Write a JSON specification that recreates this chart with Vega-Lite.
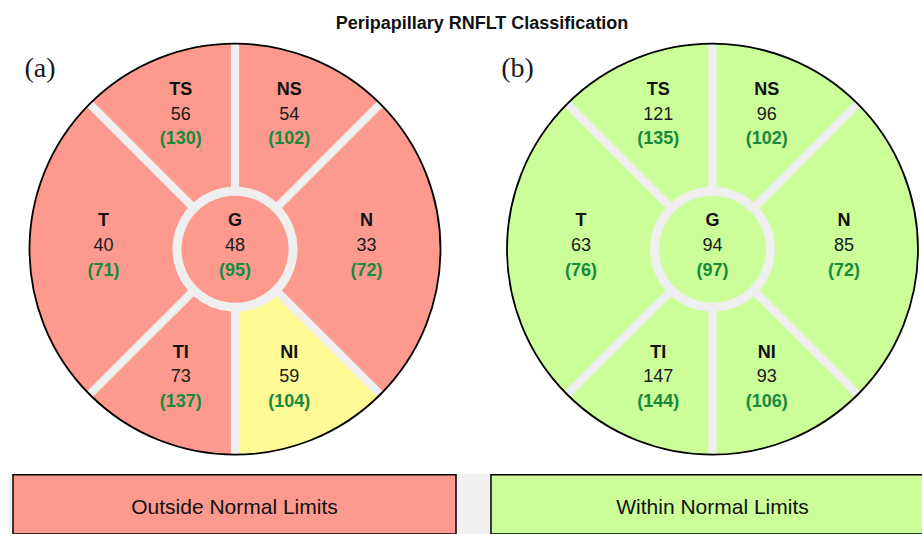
{
  "$schema": "https://vega.github.io/schema/vega-lite/v6.json",
  "background": "white",
  "padding": {"left": 9, "top": 12, "right": 0, "bottom": 0},
  "config": {"view": {"fill": "#F0F0F0", "stroke": null}, "font": "Liberation Sans"},
  "datasets": {
    "sectors": [
      {"panel": "a", "sector": "G", "idx": 0, "span": 0, "value": 48, "norm": 95, "status": "Outside Normal Limits"},
      {"panel": "a", "sector": "NS", "idx": 1, "span": 45, "value": 54, "norm": 102, "status": "Outside Normal Limits"},
      {"panel": "a", "sector": "N", "idx": 2, "span": 90, "value": 33, "norm": 72, "status": "Outside Normal Limits"},
      {"panel": "a", "sector": "NI", "idx": 3, "span": 45, "value": 59, "norm": 104, "status": "Borderline"},
      {"panel": "a", "sector": "TI", "idx": 4, "span": 45, "value": 73, "norm": 137, "status": "Outside Normal Limits"},
      {"panel": "a", "sector": "T", "idx": 5, "span": 90, "value": 40, "norm": 71, "status": "Outside Normal Limits"},
      {"panel": "a", "sector": "TS", "idx": 6, "span": 45, "value": 56, "norm": 130, "status": "Outside Normal Limits"},
      {"panel": "b", "sector": "G", "idx": 0, "span": 0, "value": 94, "norm": 97, "status": "Within Normal Limits"},
      {"panel": "b", "sector": "NS", "idx": 7, "span": 45, "value": 96, "norm": 102, "status": "Within Normal Limits"},
      {"panel": "b", "sector": "N", "idx": 8, "span": 90, "value": 85, "norm": 72, "status": "Within Normal Limits"},
      {"panel": "b", "sector": "NI", "idx": 9, "span": 45, "value": 93, "norm": 106, "status": "Within Normal Limits"},
      {"panel": "b", "sector": "TI", "idx": 10, "span": 45, "value": 147, "norm": 144, "status": "Within Normal Limits"},
      {"panel": "b", "sector": "T", "idx": 11, "span": 90, "value": 63, "norm": 76, "status": "Within Normal Limits"},
      {"panel": "b", "sector": "TS", "idx": 12, "span": 45, "value": 121, "norm": 135, "status": "Within Normal Limits"}
    ],
    "summary": [
      {"panel": "a", "label": "(a)", "classification": "Outside Normal Limits"},
      {"panel": "b", "label": "(b)", "classification": "Within Normal Limits"}
    ],
    "heading": [
      {"title": "Peripapillary RNFLT Classification"}
    ]
  },
  "spacing": 0,
  "vconcat": [
    {
      "width": 913,
      "height": 462,
      "data": {"name": "sectors"},
      "layer": [
        {
          "transform": [{"filter": "datum.sector === 'G'"}],
          "mark": {"type": "arc", "radius": 205.5, "color": "#EFEFEF", "yOffset": 6.2},
          "encoding": {
            "x": {"field": "panel", "type": "nominal", "axis": null, "scale": {"type": "point", "domain": ["a", "b"], "range": [226, 703.5], "padding": 0}}
          }
        },
        {
          "transform": [{"filter": "datum.sector !== 'G'"}],
          "mark": {"type": "arc", "radius": 205.5, "radius2": 62.5, "padAngle": 0.038, "yOffset": 6.2},
          "encoding": {
            "x": {"field": "panel", "type": "nominal", "axis": null},
            "theta": {"field": "span", "type": "quantitative", "stack": true, "scale": {"domain": [0, 720], "range": [0, 12.566370614359172]}},
            "order": {"field": "idx"},
            "color": {"field": "status", "type": "nominal", "legend": null, "scale": {"domain": ["Outside Normal Limits", "Borderline", "Within Normal Limits"], "range": ["#FD9A8D", "#FFFA95", "#CBFD99"]}}
          }
        },
        {
          "transform": [{"filter": "datum.sector === 'G'"}],
          "mark": {"type": "arc", "radius": 53.5, "yOffset": 6.2},
          "encoding": {
            "x": {"field": "panel", "type": "nominal", "axis": null},
            "color": {"field": "status", "type": "nominal", "legend": null, "scale": {"domain": ["Outside Normal Limits", "Borderline", "Within Normal Limits"], "range": ["#FD9A8D", "#FFFA95", "#CBFD99"]}}
          }
        },
        {
          "transform": [{"filter": "datum.sector === 'G'"}],
          "mark": {"type": "arc", "radius": 205.5, "filled": false, "color": "#000000", "strokeWidth": 1.8, "yOffset": 6.2},
          "encoding": {
            "x": {"field": "panel", "type": "nominal", "axis": null}
          }
        },
        {
          "mark": {"type": "text", "fontSize": 18, "fontWeight": "bold", "color": "#111111", "baseline": "alphabetic", "yOffset": 6.2, "dy": -22.8},
          "encoding": {
            "x": {"field": "panel", "type": "nominal", "axis": null},
            "theta": {"field": "span", "type": "quantitative", "stack": true, "scale": {"domain": [0, 720], "range": [0, 12.566370614359172]}},
            "radius": {"field": "span", "type": "quantitative", "scale": {"type": "linear", "domain": [0, 45, 90], "range": [0, 142, 131.5]}},
            "order": {"field": "idx"},
            "text": {"field": "sector"}
          }
        },
        {
          "mark": {"type": "text", "fontSize": 18, "color": "#1a1a1a", "baseline": "alphabetic", "yOffset": 6.2, "dy": 2},
          "encoding": {
            "x": {"field": "panel", "type": "nominal", "axis": null},
            "theta": {"field": "span", "type": "quantitative", "stack": true, "scale": {"domain": [0, 720], "range": [0, 12.566370614359172]}},
            "radius": {"field": "span", "type": "quantitative", "scale": {"type": "linear", "domain": [0, 45, 90], "range": [0, 142, 131.5]}},
            "order": {"field": "idx"},
            "text": {"field": "value"}
          }
        },
        {
          "mark": {"type": "text", "fontSize": 18, "fontWeight": "bold", "color": "#178A3C", "baseline": "alphabetic", "yOffset": 6.2, "dy": 26.4},
          "encoding": {
            "x": {"field": "panel", "type": "nominal", "axis": null},
            "theta": {"field": "span", "type": "quantitative", "stack": true, "scale": {"domain": [0, 720], "range": [0, 12.566370614359172]}},
            "radius": {"field": "span", "type": "quantitative", "scale": {"type": "linear", "domain": [0, 45, 90], "range": [0, 142, 131.5]}},
            "order": {"field": "idx"},
            "text": {"value": {"expr": "'(' + datum.norm + ')'"}}
          }
        },
        {
          "data": {"name": "summary"},
          "mark": {"type": "text", "font": "Liberation Serif", "fontSize": 28, "color": "#1a1a1a", "baseline": "alphabetic", "yOffset": 6.2, "dx": -195, "dy": -172},
          "encoding": {
            "x": {"field": "panel", "type": "nominal", "axis": null},
            "text": {"field": "label"}
          }
        },
        {
          "data": {"name": "heading"},
          "mark": {"type": "text", "fontSize": 18, "fontWeight": "bold", "color": "#111111", "baseline": "alphabetic", "dx": 16.5, "dy": -214.5},
          "encoding": {
            "text": {"field": "title"}
          }
        }
      ]
    },
    {
      "width": 913,
      "height": 60,
      "data": {"name": "summary"},
      "encoding": {
        "x": {"field": "panel", "type": "nominal", "axis": null, "scale": {"type": "band", "domain": ["a", "b"], "range": [4, 925], "paddingInner": 0.0732, "paddingOuter": 0}}
      },
      "layer": [
        {
          "mark": {"type": "rect", "stroke": "#000000", "strokeWidth": 1.5, "yOffset": 0.75, "y2Offset": 8, "clip": true},
          "encoding": {
            "color": {"field": "classification", "type": "nominal", "legend": null, "scale": {"domain": ["Outside Normal Limits", "Borderline", "Within Normal Limits"], "range": ["#FD9A8D", "#FFFA95", "#CBFD99"]}}
          }
        },
        {
          "mark": {"type": "text", "fontSize": 21, "color": "#111111", "baseline": "alphabetic", "dy": 10},
          "encoding": {"text": {"field": "classification"}}
        }
      ]
    }
  ]
}
